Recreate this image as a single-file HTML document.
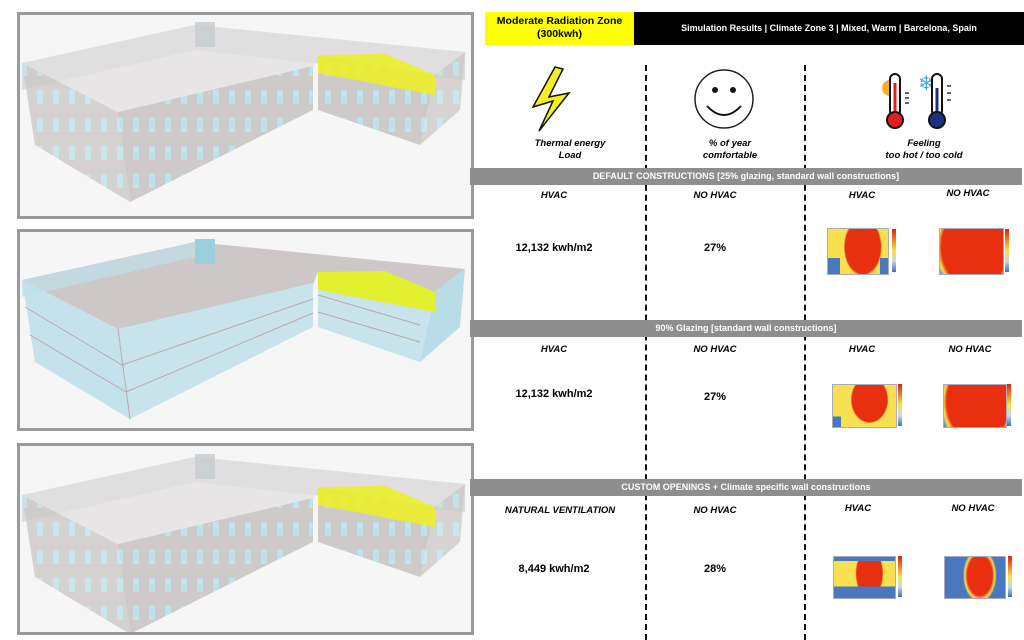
<!DOCTYPE html>
<html><head><meta charset="utf-8"><style>
body{margin:0;width:1024px;height:640px;background:#fff;position:relative;overflow:hidden;font-family:"Liberation Sans",sans-serif}
.a{position:absolute}
.panel{position:absolute;left:17px;width:451px;border:3px solid #9a9a9a;background:#f6f6f6;overflow:hidden}
.bar{position:absolute;left:470px;width:552px;height:17px;background:#8e8e8e;color:#fff;font-size:9px;font-weight:bold;text-align:center;line-height:17px}
.lbl{position:absolute;font-size:9.5px;font-weight:bold;font-style:italic;transform:translateX(-50%);white-space:nowrap}
.val{position:absolute;font-size:11px;font-weight:bold;transform:translateX(-50%);white-space:nowrap}
.dash{position:absolute;width:0;border-left:2px dashed #111;top:65px;height:575px}
.hm{position:absolute;border:1px solid #aab}
.leg{position:absolute;width:4px;background:linear-gradient(#e02010,#f08020,#f8e040,#c8d8e8,#4070b8)}
</style></head><body>

<svg width="0" height="0" style="position:absolute">
<defs>
<pattern id="win" width="16" height="28" patternUnits="userSpaceOnUse"><rect width="16" height="28" fill="#cfcaca"/><rect x="5" y="6" width="6" height="14" fill="#bfe3ec"/></pattern>
<pattern id="winb" width="14" height="14" patternUnits="userSpaceOnUse"><rect width="14" height="14" fill="#d8d6d6"/><rect x="5" y="3" width="4" height="8" fill="#c5e2ea"/></pattern>
<g id="bldg">
<polygon points="22,63 195,25 465,52 465,80 195,50 22,90" fill="url(#winb)" opacity="0.9"/>
<polygon points="22,63 195,25 465,52 435,75 318,55 313,68 118,112" fill="#e2dfdf" opacity="0.75"/>
<polygon points="22,63 118,112 130,202 35,145" fill="url(#win)" opacity="0.85"/>
<polygon points="118,112 313,66 313,110 130,202" fill="url(#win)"/>
<polygon points="318,55 435,75 420,145 318,110" fill="url(#win)"/>
<polygon points="435,75 465,52 460,110 420,145" fill="url(#win)" opacity="0.8"/>
<rect x="195" y="22" width="20" height="25" fill="#c8ccd0" opacity="0.8"/>
<polygon points="318,55 385,54 435,75 435,95 318,73" fill="#eef020" opacity="0.85"/>
</g>
<g id="bldg2">
<polygon points="22,63 195,25 465,52 435,75 318,55 313,68 118,112" fill="#c4bcbc" opacity="0.8"/>
<polygon points="22,63 118,112 130,202 35,145" fill="#bfe0ea" opacity="0.9"/>
<polygon points="118,112 313,66 313,110 130,202" fill="#c7e4ec"/>
<polygon points="318,55 435,75 420,145 318,110" fill="#c7e4ec"/>
<polygon points="435,75 465,52 460,110 420,145" fill="#b9dde8"/>
<polygon points="22,63 195,25 195,40 22,80" fill="#bfe0ea" opacity="0.7"/>
<rect x="195" y="22" width="20" height="25" fill="#9ccfdc"/>
<polygon points="318,55 385,54 435,75 435,95 318,73" fill="#e2f030"/>
<g stroke="#b8a8a8" stroke-width="1" fill="none"><path d="M122,148 L313,82 M126,175 L313,96 M318,78 L420,108 M318,95 L420,125 M25,90 L122,148 M30,118 L126,175 M118,112 L130,202"/></g>
</g>
</defs></svg>

<div class="panel" style="top:12px;height:201px"><svg width="451" height="201"><use href="#bldg" transform="translate(-20,-15)"/></svg></div>
<div class="panel" style="top:229px;height:196px"><svg width="451" height="196"><use href="#bldg2" transform="translate(-20,-15)"/></svg></div>
<div class="panel" style="top:443px;height:186px"><svg width="451" height="186"><use href="#bldg" transform="translate(-20,-14)"/></svg></div>

<div class="a" style="left:485px;top:12px;width:149px;height:33px;background:#ffff00;font-size:10.5px;font-weight:bold;text-align:center;line-height:13px;padding-top:3px;box-sizing:border-box">Moderate Radiation Zone<br>(300kwh)</div>
<div class="a" style="left:634px;top:12px;width:390px;height:33px;background:#000;color:#fff;font-size:9px;font-weight:bold;text-align:center;line-height:33px">Simulation Results | Climate Zone 3 | Mixed, Warm | Barcelona, Spain</div>

<div class="dash" style="left:645px"></div>
<div class="dash" style="left:804px"></div>

<svg class="a" style="left:525px;top:65px" width="50" height="70"><polygon points="30,2 8,42 28,36 14,66 44,28 24,32 38,4" fill="#f4f020" stroke="#111" stroke-width="1.5"/></svg>
<svg class="a" style="left:693px;top:68px" width="62" height="62"><circle cx="31" cy="31" r="29" fill="#fff" stroke="#222" stroke-width="1.5"/><circle cx="22" cy="22" r="3" fill="#111"/><circle cx="40" cy="22" r="3" fill="#111"/><path d="M14,38 Q31,56 48,38" fill="none" stroke="#111" stroke-width="2"/></svg>
<svg class="a" style="left:870px;top:68px" width="90" height="65">
<circle cx="20" cy="20" r="8" fill="#f4b020"/>
<rect x="20" y="6" width="10" height="42" rx="5" fill="#fff" stroke="#111" stroke-width="2"/><rect x="23.5" y="15" width="3" height="33" fill="#e02020"/><circle cx="25" cy="52" r="8" fill="#e02020" stroke="#111" stroke-width="2"/>
<text x="48" y="22" font-size="20" fill="#40a8e8">❄</text>
<rect x="62" y="6" width="10" height="42" rx="5" fill="#fff" stroke="#111" stroke-width="2"/><rect x="65.5" y="20" width="3" height="28" fill="#203080"/><circle cx="67" cy="52" r="8" fill="#203080" stroke="#111" stroke-width="2"/>
<path d="M35,25h4M35,30h4M35,35h4M77,18h4M77,25h4M77,32h4" stroke="#333" stroke-width="1.5"/>
</svg>

<div class="lbl" style="left:570px;top:138px;text-align:center;line-height:12px">Thermal energy<br>Load</div>
<div class="lbl" style="left:730px;top:138px;text-align:center;line-height:12px">% of year<br>comfortable</div>
<div class="lbl" style="left:924px;top:138px;text-align:center;line-height:12px">Feeling<br>too hot / too cold</div>

<div class="bar" style="top:168px">DEFAULT CONSTRUCTIONS [25% glazing, standard wall constructions]</div>
<div class="bar" style="top:320px">90% Glazing [standard wall constructions]</div>
<div class="bar" style="top:479px">CUSTOM OPENINGS + Climate specific wall constructions</div>

<div class="lbl" style="left:554px;top:190px">HVAC</div>
<div class="lbl" style="left:715px;top:190px">NO HVAC</div>
<div class="lbl" style="left:862px;top:190px">HVAC</div>
<div class="lbl" style="left:968px;top:188px">NO HVAC</div>
<div class="val" style="left:554px;top:242px">12,132 kwh/m2</div>
<div class="val" style="left:715px;top:242px">27%</div>

<div class="lbl" style="left:554px;top:344px">HVAC</div>
<div class="lbl" style="left:715px;top:344px">NO HVAC</div>
<div class="lbl" style="left:862px;top:344px">HVAC</div>
<div class="lbl" style="left:970px;top:344px">NO HVAC</div>
<div class="val" style="left:554px;top:388px">12,132 kwh/m2</div>
<div class="val" style="left:715px;top:391px">27%</div>

<div class="lbl" style="left:560px;top:505px">NATURAL VENTILATION</div>
<div class="lbl" style="left:715px;top:505px">NO HVAC</div>
<div class="lbl" style="left:858px;top:503px">HVAC</div>
<div class="lbl" style="left:973px;top:503px">NO HVAC</div>
<div class="val" style="left:554px;top:563px">8,449 kwh/m2</div>
<div class="val" style="left:715px;top:563px">28%</div>

<div class="hm" style="left:827px;top:228px;width:60px;height:45px;background:linear-gradient(#0000 65%,#4a78c0 65%) left/12px 100% no-repeat,linear-gradient(#0000 65%,#4a78c0 65%) right/8px 100% no-repeat,radial-gradient(ellipse 42% 85% at 58% 40%,#e83010 70%,#f8e050 76%) #f5e060"></div>
<div class="leg" style="left:892px;top:229px;height:43px"></div>
<div class="hm" style="left:939px;top:228px;width:63px;height:45px;background:radial-gradient(ellipse 75% 130% at 55% 40%,#e83010 70%,#f8e050 78%,#4a78c0 88%) #4a78c0"></div>
<div class="leg" style="left:1005px;top:229px;height:43px"></div>

<div class="hm" style="left:832px;top:384px;width:63px;height:42px;background:linear-gradient(#0000 75%,#4a78c0 75%) left/8px 100% no-repeat,radial-gradient(ellipse 40% 75% at 58% 35%,#e83010 70%,#f8e050 75%) #f5e060"></div>
<div class="leg" style="left:898px;top:384px;height:42px"></div>
<div class="hm" style="left:943px;top:384px;width:62px;height:42px;background:radial-gradient(ellipse 70% 130% at 55% 40%,#e83010 72%,#f8e050 80%,#4a78c0 90%) #4a78c0"></div>
<div class="leg" style="left:1007px;top:384px;height:42px"></div>

<div class="hm" style="left:833px;top:556px;width:61px;height:41px;background:linear-gradient(#4a78c0 10%,#0000 10%,#0000 72%,#4a78c0 72%),radial-gradient(ellipse 30% 80% at 58% 40%,#e83010 70%,#f8e050 76%) #f5e060"></div>
<div class="leg" style="left:898px;top:556px;height:41px"></div>
<div class="hm" style="left:944px;top:556px;width:60px;height:41px;background:radial-gradient(ellipse 32% 75% at 58% 45%,#e83010 65%,#f8e050 78%,#4a78c0 88%) #4a78c0"></div>
<div class="leg" style="left:1008px;top:556px;height:41px"></div>
</body></html>
